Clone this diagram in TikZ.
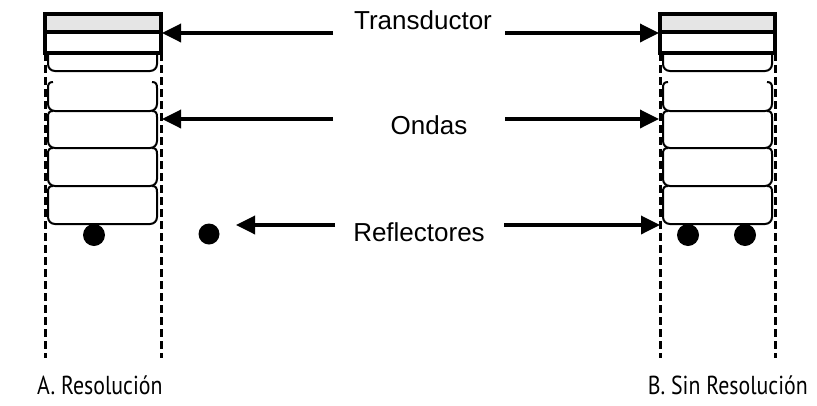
\documentclass[tikz,border=0pt]{standalone}
\usepackage{fontspec}
\setmainfont{Liberation Sans}
\newfontfamily\capfont{PT Sans}
\usetikzlibrary{arrows.meta}
\tikzset{
  x=1pt, y=-1pt,
  colline/.style={line width=3pt, dash pattern=on 8pt off 4pt},
  tbox/.style={line width=3.5pt},
  wavecurve/.style={line width=2pt},
  refdot/.style={fill=black, draw=none},
  callarrow/.style={line width=3.5pt, -{Triangle[length=19pt,width=18pt]}},
  lbl/.style={font=\fontsize{26}{28}\selectfont, anchor=base, inner sep=0pt},
  caption/.style={font=\capfont\fontsize{26}{28}\selectfont, anchor=base west, inner sep=0pt},
}
\newcommand\wavecup[5]{% #1 xl, #2 xr, #3 yt, #4 yb, #5 flare(0/1)
  \ifnum#5=1
    \draw[wavecurve] (#1+5,#3) .. controls (#1+1,#3) and (#1,#3+2) .. (#1,#3+6)
      -- (#1,#4-7) .. controls (#1,#4-3) and (#1+3,#4) .. (#1+7,#4)
      -- (#2-7,#4) .. controls (#2-3,#4) and (#2,#4-3) .. (#2,#4-7)
      -- (#2,#3+6) .. controls (#2,#3+2) and (#2-1,#3) .. (#2-5,#3);
  \else
    \draw[wavecurve] (#1,#3)
      -- (#1,#4-7) .. controls (#1,#4-3) and (#1+3,#4) .. (#1+7,#4)
      -- (#2-7,#4) .. controls (#2-3,#4) and (#2,#4-3) .. (#2,#4-7)
      -- (#2,#3);
  \fi
}
\begin{document}
\begin{tikzpicture}
\useasboundingbox (0,0) rectangle (817,405);
% ---------- left column (A) ----------
\draw[colline] (45,53) -- (45,358);
\draw[colline] (161,53) -- (161,358);
\wavecup{48}{157}{53}{71}{0}
\wavecup{48}{157}{82}{111}{1}
\wavecup{48}{157}{111}{148}{1}
\wavecup{48}{157}{148}{186}{1}
\wavecup{48}{157}{186}{224}{1}
\fill[gray!20] (45,14) rectangle (161,32);
\draw[tbox] (45,14) rectangle (161,53);
\draw[tbox] (45,32) -- (161,32);
\fill[refdot] (94,235) circle (11);
\fill[refdot] (209,234) circle (10.5);
% ---------- right column (B) ----------
\draw[colline] (660,53) -- (660,358);
\draw[colline] (775,53) -- (775,358);
\wavecup{663}{772}{53}{71}{0}
\wavecup{663}{772}{82}{111}{1}
\wavecup{663}{772}{111}{148}{1}
\wavecup{663}{772}{148}{186}{1}
\wavecup{663}{772}{186}{224}{1}
\fill[gray!20] (660,14) rectangle (775,32);
\draw[tbox] (660,14) rectangle (775,53);
\draw[tbox] (660,32) -- (775,32);
\fill[refdot] (688,235) circle (11);
\fill[refdot] (745,235) circle (11);
% ---------- labels ----------
\node[lbl] (trans) at (423,29.5) {Transductor};
\node[lbl] (ondas) at (429,134.5) {Ondas};
\node[lbl] (refl) at (419,241) {Reflectores};
\coordinate (transL) at (333,33);
\coordinate (transR) at (505,33);
\coordinate (ondasL) at (333,119);
\coordinate (ondasR) at (505,119);
\coordinate (reflL) at (335,225);
\coordinate (reflR) at (504,225);
\coordinate (tA) at (162,33);
\coordinate (tB) at (659,33);
\coordinate (oA) at (162,119);
\coordinate (oB) at (659,119);
\coordinate (rA) at (236,225);
\coordinate (rB) at (660,225);
\draw[callarrow] (transL) -- (tA);
\draw[callarrow] (transR) -- (tB);
\draw[callarrow] (ondasL) -- (oA);
\draw[callarrow] (ondasR) -- (oB);
\draw[callarrow] (reflL) -- (rA);
\draw[callarrow] (reflR) -- (rB);
\node[caption] (capA) at (37,394) {\scalebox{0.84}[1]{A. Resolución}};
\node[caption, anchor=base east] (capB) at (808,394) {\scalebox{0.84}[1]{B. Sin Resolución}};
\end{tikzpicture}
\end{document}
